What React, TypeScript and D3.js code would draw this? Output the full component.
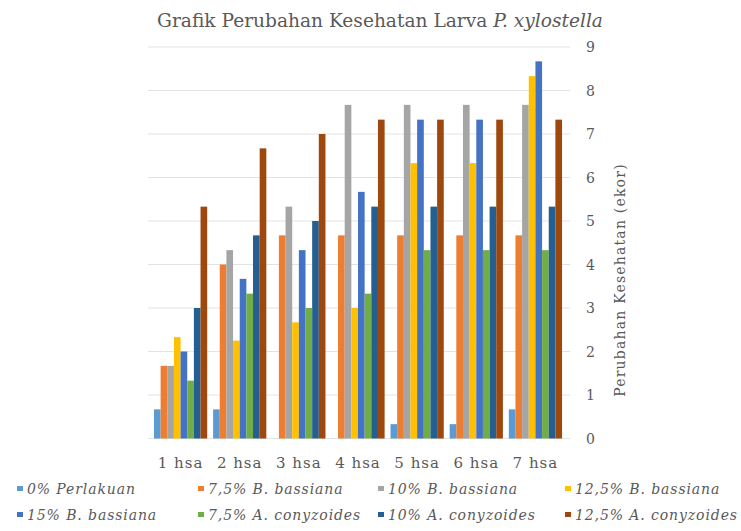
import React from 'react';
import * as d3 from 'd3';

// categories and series
const days = ['1 hsa', '2 hsa', '3 hsa', '4 hsa', '5 hsa', '6 hsa', '7 hsa'];
const seriesNames = [
  '0% Perlakuan',
  '7,5% B. bassiana',
  '10% B. bassiana',
  '12,5% B. bassiana',
  '15% B. bassiana',
  '7,5% A. conyzoides',
  '10% A. conyzoides',
  '12,5% A. conyzoides',
];
const perlakuan0 = [0.67, 0.67, 0, 0, 0.33, 0.33, 0.67];
const bassiana75 = [1.67, 4, 4.67, 4.67, 4.67, 4.67, 4.67];
const bassiana10 = [1.67, 4.33, 5.33, 7.67, 7.67, 7.67, 7.67];
const bassiana125 = [2.33, 2.25, 2.67, 3, 6.33, 6.33, 8.33];
const bassiana15 = [2, 3.67, 4.33, 5.67, 7.33, 7.33, 8.67];
const conyzoides75 = [1.33, 3.33, 3, 3.33, 4.33, 4.33, 4.33];
const conyzoides10 = [3, 4.67, 5, 5.33, 5.33, 5.33, 5.33];
const conyzoides125 = [5.33, 6.67, 7, 7.33, 7.33, 7.33, 7.33];
const yTicks = [0, 1, 2, 3, 4, 5, 6, 7, 8, 9];

const colors = ['#5B9BD5', '#ED7D31', '#A5A5A5', '#FFC000', '#4472C4', '#70AD47', '#255E91', '#9E480E'];

export default function App() {
  const w = 741, h = 531;
  const values = [perlakuan0, bassiana75, bassiana10, bassiana125, bassiana15, conyzoides75, conyzoides10, conyzoides125];

  const x = d3.scaleBand().domain(days).range([151, 565]).paddingInner(0.1).paddingOuter(0.05);
  const xs = d3.scaleBand().domain(seriesNames).range([0, x.bandwidth()]);
  const y = d3.scaleLinear().domain([0, 9]).range([438.5, 47]);

  const serif = { fontFamily: "'DejaVu Serif', serif" };
  const legendCols = [17, 198, 378, 565];

  return (
    <svg width={w} height={h} style={{ position: 'absolute', left: 0, top: 0, background: '#fff' }}>
      {/* title */}
      <text x={380} y={27} textAnchor="middle" style={serif} fontSize={18.6} fill="#595959">
        Grafik Perubahan Kesehatan Larva <tspan fontStyle="italic">P. xylostella</tspan>
      </text>

      {/* gridlines */}
      {yTicks.map(t => (
        <line key={t} x1={148} x2={570} y1={y(t)} y2={y(t)} stroke="#E3E3E3" strokeWidth={1} />
      ))}

      {/* bars */}
      {days.map((d, i) => (
        <g key={d} transform={`translate(${x(d)},0)`}>
          {seriesNames.map((s, j) => (
            <rect
              key={s}
              x={xs(s)}
              y={y(values[j][i])}
              width={xs.bandwidth()}
              height={y(0) - y(values[j][i])}
              fill={colors[j]}
            />
          ))}
        </g>
      ))}

      {/* right axis tick labels */}
      {yTicks.map(t => (
        <text key={t} x={586} y={y(t) + 5} style={serif} fontSize={14} fill="#595959">{t}</text>
      ))}
      <text transform="translate(625,280) rotate(-90)" textAnchor="middle" style={serif} fontSize={14} letterSpacing={1.2} fill="#595959">
        Perubahan Kesehatan (ekor)
      </text>

      {/* category labels */}
      {days.map(d => (
        <text key={d} x={(x(d) as number) + x.bandwidth() / 2} y={468} textAnchor="middle" style={serif} fontSize={15} letterSpacing={1} fill="#595959">{d}</text>
      ))}

      {/* legend */}
      {seriesNames.map((s, j) => {
        const lx = legendCols[j % 4];
        const ly = j < 4 ? 489 : 515;
        return (
          <g key={s}>
            <rect x={lx} y={ly - 3} width={6} height={5} fill={colors[j]} />
            <text x={lx + 10} y={ly + 5} style={serif} fontStyle="italic" fontSize={14} letterSpacing={0.9} fill="#595959">{s}</text>
          </g>
        );
      })}
    </svg>
  );
}
